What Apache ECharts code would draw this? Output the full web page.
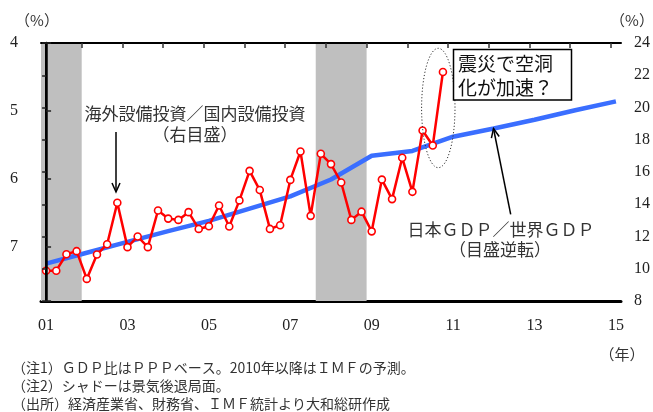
<!DOCTYPE html>
<html>
<head>
<meta charset="utf-8">
<script src="https://cdn.jsdelivr.net/npm/echarts@6.0.0/dist/echarts.min.js"></script>
<style>
html,body{margin:0;padding:0;background:#fff;}
#chart{width:653px;height:412px;}
</style>
</head>
<body>
<div id="chart"></div>
<script>
// ---- data ----
const firstYear = 2001;
const quarterCount = 57; // 2001Q1 .. 2015Q1
const yearLabels = ['01', '03', '05', '07', '09', '11', '13', '15'];
// 海外設備投資／国内設備投資 (right axis, %), quarterly 2001Q1-2010Q4
const overseasRatio = [
  9.88, 9.88, 10.90, 11.09, 9.37, 10.88, 11.52, 14.09,
  11.34, 12.00, 11.34, 13.61, 13.11, 13.03, 13.51, 12.47,
  12.64, 13.92, 12.62, 14.24, 16.07, 14.88, 12.47, 12.70,
  15.51, 17.27, 13.28, 17.13, 16.49, 15.35, 13.03, 13.54,
  12.32, 15.53, 14.32, 16.88, 14.77, 18.57, 17.64, 22.20
];
// 日本GDP／世界GDP (left axis, inverted, %), annual
const gdpYears = [2001, 2002, 2003, 2004, 2005, 2006, 2007, 2008, 2009, 2010, 2011, 2012, 2013, 2014, 2015];
const gdpShare = [7.25, 7.09, 6.93, 6.77, 6.62, 6.44, 6.26, 6.01, 5.66, 5.59, 5.38, 5.26, 5.13, 4.99, 4.86];
// recessions [startYear, startQ, endYear, endQ]
const recessions = [[2001, 1, 2001, 4], [2007, 4, 2008, 4]];
const leftTicks = [4, 5, 6, 7];
const rightTicks = [8, 10, 12, 14, 16, 18, 20, 22, 24];

// ---- helpers ----
const qIndex = (y, q) => (y - firstYear) * 4 + (q - 1);
const redData = overseasRatio.map((v, i) => [i, v]);
const blueData = gdpShare.map((v, k) => [qIndex(gdpYears[k], 1), v]);
const areaData = recessions.map(r => [{ xAxis: qIndex(r[0], r[1]) - 0.5 }, { xAxis: qIndex(r[2], r[3]) + 0.5 }]);
const labelValues = yearLabels.map(l => qIndex(2000 + Number(l), 1));
const yearTickValues = [];
for (let y = firstYear + 1; y <= 2015; y++) yearTickValues.push(qIndex(y, 1) - 0.5);

const serif = '"Liberation Serif", "DejaVu Serif", serif';
const jp = '"Noto Sans CJK JP", sans-serif';

const chart = echarts.init(document.getElementById('chart'), null, { renderer: 'canvas' });

const txt = (text, x, y, size, align, fill, z) => ({
  type: 'text', z: z || 100,
  style: { text: text, x: x, y: y, fontSize: size, fontFamily: jp, fill: fill || '#333', textAlign: align || 'center', textVerticalAlign: 'middle' }
});

chart.setOption({
  animation: false,
  grid: { left: 41, right: 32, top: 43, bottom: 111 },
  xAxis: [
    {
      type: 'value', position: 'bottom', min: -0.5, max: quarterCount - 0.5,
      axisLine: { show: true, lineStyle: { color: '#000', width: 3 } },
      axisTick: { show: false },
      splitLine: { show: false },
      axisLabel: {
        customValues: labelValues, margin: 17,
        fontFamily: serif, fontSize: 16, color: '#222',
        formatter: v => yearLabels[labelValues.indexOf(v)] || ''
      }
    },
    {
      type: 'value', position: 'top', min: -0.5, max: quarterCount - 0.5, z: 10,
      axisLine: { show: true, lineStyle: { color: '#000', width: 2 } },
      axisTick: { show: true, inside: true, length: 5, customValues: yearTickValues, lineStyle: { color: '#333', width: 1.5 } },
      axisLabel: { show: false },
      splitLine: { show: false }
    }
  ],
  yAxis: [
    {
      type: 'value', position: 'left', inverse: true, min: 4, max: 7.8, interval: 1, z: 10,
      axisLine: { show: true, lineStyle: { color: '#000', width: 2 } },
      axisTick: { show: true, inside: true, length: 5, lineStyle: { color: '#222', width: 1.5 } },
      splitLine: { show: false },
      axisLabel: {
        margin: 23, fontFamily: serif, fontSize: 16, color: '#222',
        formatter: v => leftTicks.indexOf(v) >= 0 ? String(v) : ''
      }
    },
    {
      type: 'value', position: 'right', min: 8, max: 24, interval: 2, z: 10,
      axisLine: { show: true, lineStyle: { color: '#000', width: 2.5 } },
      axisTick: { show: true, inside: true, length: 4, lineStyle: { color: '#222', width: 1.5 } },
      splitLine: { show: false },
      axisLabel: {
        margin: 13, fontFamily: serif, fontSize: 16, color: '#222',
        formatter: v => rightTicks.indexOf(v) >= 0 ? String(v) : ''
      }
    }
  ],
  series: [
    {
      name: '日本GDP／世界GDP', type: 'line', xAxisIndex: 0, yAxisIndex: 0,
      data: blueData, symbol: 'none', z: 2,
      lineStyle: { color: '#3A6EFF', width: 4.5 },
      markArea: { silent: true, itemStyle: { color: '#BFBFBF', opacity: 1 }, data: areaData }
    },
    {
      name: '海外設備投資／国内設備投資', type: 'line', xAxisIndex: 0, yAxisIndex: 1,
      data: redData, symbol: 'circle', symbolSize: 7, z: 3,
      lineStyle: { color: '#FF0000', width: 2.5 },
      itemStyle: { color: '#FFFFFF', borderColor: '#FF0000', borderWidth: 1.6 }
    }
  ],
  graphic: [
    txt('（%）', 37, 20, 15),
    txt('（%）', 632, 20, 15),
    txt('（年）', 622, 354, 15),
    txt('海外設備投資／国内設備投資', 195, 114, 17),
    txt('（右目盛）', 195, 135, 17),
    { type: 'line', z: 100, shape: { x1: 116, y1: 132, x2: 116, y2: 191 }, style: { stroke: '#000', lineWidth: 1.5 } },
    { type: 'polyline', z: 100, shape: { points: [[112, 183], [116, 192], [120, 183]] }, style: { stroke: '#000', lineWidth: 1.5, fill: 'none' } },
    txt('日本ＧＤＰ／世界ＧＤＰ', 501, 230, 17),
    txt('（目盛逆転）', 500, 250, 17),
    { type: 'line', z: 100, shape: { x1: 510.7, y1: 214.3, x2: 493.5, y2: 128.5 }, style: { stroke: '#000', lineWidth: 1.5 } },
    { type: 'polyline', z: 100, shape: { points: [[499.2, 136.5], [493.5, 128.5], [491.4, 138.1]] }, style: { stroke: '#000', lineWidth: 1.5, fill: 'none' } },
    { type: 'ellipse', z: 100, shape: { cx: 438.3, cy: 108, rx: 16.7, ry: 59.7 }, style: { fill: 'none', stroke: '#333', lineWidth: 1, lineDash: [1.2, 2] } },
    { type: 'rect', z: 100, shape: { x: 453.5, y: 49.5, width: 118, height: 50.5 }, style: { fill: '#fff', stroke: '#000', lineWidth: 1.5 } },
    txt('震災で空洞', 458, 64, 19, 'left', '#111', 101),
    txt('化が加速？', 458, 88, 19, 'left', '#111', 101),
    txt('（注1）ＧＤＰ比はＰＰＰベース。2010年以降はＩＭＦの予測。', 12, 368, 14, 'left'),
    txt('（注2）シャドーは景気後退局面。', 12, 386, 14, 'left'),
    txt('（出所）経済産業省、財務省、ＩＭＦ統計より大和総研作成', 12, 404, 14, 'left')
  ]
});
</script>
</body>
</html>
